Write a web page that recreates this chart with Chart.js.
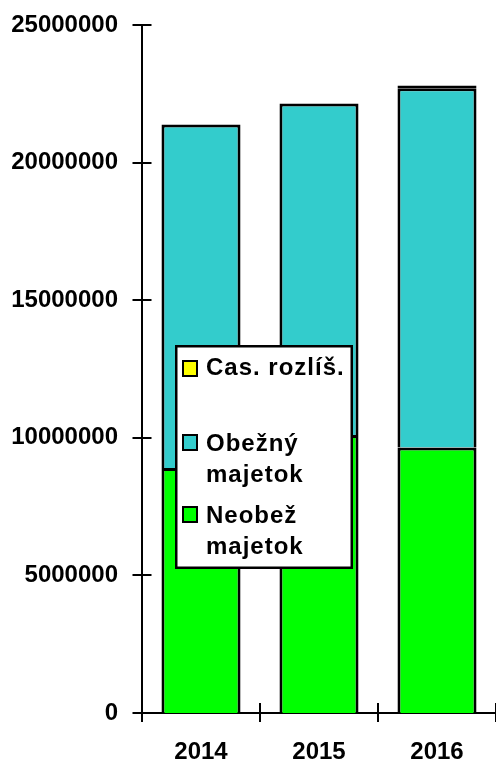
<!DOCTYPE html>
<html>
<head>
<meta charset="utf-8">
<script src="https://cdn.jsdelivr.net/npm/chart.js@4/dist/chart.umd.min.js"></script>
<style>
html,body{margin:0;padding:0;background:#fff;}
#wrap{position:relative;width:496px;height:763px;}
</style>
</head>
<body>
<div id="wrap"><canvas id="c" width="496" height="763"></canvas></div>
<script>
const categories = ["2014", "2015", "2016"];
const neobezny = [8900000, 10100000, 9650000];
const obezny = [12480000, 12050000, 13050000];
const casRozlis = [0, 0, 100000];
const yTicks = [0, 5000000, 10000000, 15000000, 20000000, 25000000];
const seriesNames = {
  cas: ["Cas. rozlíš."],
  obe: ["Obežný", "majetok"],
  neo: ["Neobež", "majetok"]
};

const FONT = "'Liberation Sans', Arial, sans-serif";

const tickPlugin = {
  id: 'crossTicks',
  afterDraw(chart) {
    const ctx = chart.ctx;
    const y = chart.scales.y;
    const a = chart.chartArea;
    ctx.save();
    ctx.strokeStyle = '#000';
    ctx.lineWidth = 2;
    ctx.beginPath();
    yTicks.forEach(v => {
      const py = Math.round(y.getPixelForValue(v));
      ctx.moveTo(a.left - 9.5, py);
      ctx.lineTo(a.left + 9.5, py);
    });
    const n = categories.length;
    for (let i = 0; i <= n; i++) {
      const px = a.left + (a.right - a.left) * i / n;
      ctx.moveTo(px, a.bottom - 10);
      ctx.lineTo(px, a.bottom + 9);
    }
    ctx.stroke();
    ctx.restore();
  }
};

const legendPlugin = {
  id: 'boxLegend',
  afterDraw(chart) {
    const ctx = chart.ctx;
    ctx.save();
    ctx.fillStyle = '#fff';
    ctx.fillRect(175, 345, 178, 224);
    ctx.strokeStyle = '#000';
    ctx.lineWidth = 2.5;
    ctx.strokeRect(176.25, 346.25, 175.5, 221.5);
    const items = chart.data.datasets.slice().reverse().map(d => ({lines: d.legendLines, color: d.backgroundColor}));
    const layout = [
      {sq: 361, base: [375]},
      {sq: 435, base: [451, 482]},
      {sq: 507, base: [523, 554]}
    ];
    ctx.font = "bold 24px " + FONT;
    ctx.letterSpacing = '1px';
    ctx.textBaseline = 'alphabetic';
    ctx.textAlign = 'left';
    items.forEach((it, i) => {
      const L = layout[i];
      ctx.fillStyle = it.color;
      ctx.fillRect(183, L.sq, 14, 15);
      ctx.strokeStyle = '#000';
      ctx.lineWidth = 2;
      ctx.strokeRect(183, L.sq, 14, 15);
      ctx.fillStyle = '#000';
      it.lines.forEach((t, j) => ctx.fillText(t, 206, L.base[j]));
    });
    ctx.restore();
  }
};

new Chart(document.getElementById('c'), {
  type: 'bar',
  data: {
    labels: categories,
    datasets: [
      {label: seriesNames.neo.join(' '), legendLines: seriesNames.neo, data: neobezny, backgroundColor: '#00FF00', borderColor: '#000', borderWidth: 3},
      {label: seriesNames.obe.join(' '), legendLines: seriesNames.obe, data: obezny, backgroundColor: '#33CCCC', borderColor: '#000', borderWidth: 3},
      {label: seriesNames.cas.join(' '), legendLines: seriesNames.cas, data: casRozlis, backgroundColor: '#FFFF00', borderColor: '#000', borderWidth: 3, borderSkipped: false}
    ]
  },
  options: {
    responsive: false,
    animation: false,
    events: [],
    layout: {padding: {top: 25, left: 0, right: 0, bottom: 0}},
    datasets: {bar: {categoryPercentage: 1, barPercentage: 0.67}},
    plugins: {legend: {display: false}, tooltip: {enabled: false}},
    scales: {
      x: {
        stacked: true,
        grid: {display: false, drawTicks: false},
        border: {display: true, color: '#000', width: 2},
        ticks: {color: '#000', font: {family: FONT, size: 24, weight: 'bold'}, padding: 25, maxRotation: 0},
        afterFit(s) { s.height = 50; s.paddingLeft = 0; s.paddingRight = 0; }
      },
      y: {
        stacked: true,
        min: 0, max: 25000000,
        afterBuildTicks(s) { s.ticks = yTicks.map(v => ({value: v})); },
        grid: {display: false, drawTicks: false},
        border: {display: true, color: '#000', width: 2},
        ticks: {color: '#000', font: {family: FONT, size: 24, weight: 'bold'}, padding: 24, callback: v => String(v)},
        afterFit(s) { s.width = 142; s.paddingTop = 0; s.paddingBottom = 0; }
      }
    }
  },
  plugins: [tickPlugin, legendPlugin]
});
</script>
</body>
</html>
